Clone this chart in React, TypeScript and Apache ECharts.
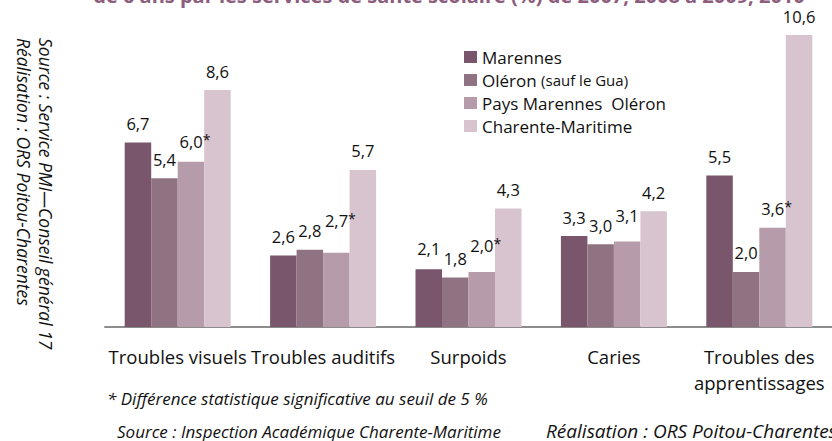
import React, { useEffect, useRef } from "react";
import * as echarts from "echarts";

const categories = [
  "Troubles visuels",
  "Troubles auditifs",
  "Surpoids",
  "Caries",
  "Troubles des\napprentissages",
];
const seriesNames = [
  "Marennes",
  "Oléron (sauf le Gua)",
  "Pays Marennes  Oléron",
  "Charente-Maritime",
];
const marennes = [6.7, 2.6, 2.1, 3.3, 5.5];
const oleron = [5.4, 2.8, 1.8, 3.0, 2.0];
const paysMarennesOleron = [6.0, 2.7, 2.0, 3.1, 3.6];
const charenteMaritime = [8.6, 5.7, 4.3, 4.2, 10.6];
// significant difference marker (*) for Pays Marennes Oléron
const paysSignificant = [true, true, true, false, true];

const titleText =
  "de 6 ans par les services de santé scolaire (%) de 2007, 2008 à 2009, 2010";
const noteText = "* Différence statistique significative au seuil de 5 %";
const sourceBottom = "Source : Inspection Académique Charente-Maritime";
const realBottom = "Réalisation : ORS Poitou-Charentes";
const sourceLeft = "Source : Service PMI—Conseil général 17";
const realLeft = "Réalisation : ORS Poitou-Charentes";

const FONT = "'Open Sans', sans-serif";
const colors = ["#79566b", "#8f7383", "#b69cab", "#d7c4ce"];

const fmt = (v: number) => v.toFixed(1).replace(".", ",");

export default function App() {
  const ref = useRef<HTMLDivElement>(null);
  useEffect(() => {
    if (!ref.current) return;
    const chart = echarts.init(ref.current, undefined, { renderer: "svg" });

    // extra upward lift of some labels (overlap avoidance in original)
    const lift: Record<string, number> = {
      "2-0": 1,
      "0-2": 2,
      "2-1": 13,
      "2-2": 7,
      "2-3": 7,
    };

    const allValues = [marennes, oleron, paysMarennesOleron, charenteMaritime];
    const series = allValues.map((vals, si) => ({
      name: seriesNames[si],
      type: "bar" as const,
      barWidth: 26.5,
      barGap: "0%",
      itemStyle: { color: colors[si] },
      data: vals.map((v, ci) => {
        const starred = si === 2 && paysSignificant[ci];
        const extra = lift[`${si}-${ci}`] || 0;
        return {
          value: v,
          label: {
            distance: 10 + extra,
            offset: starred ? [4, 0] : [0, 0],
            formatter: starred ? `{v|${fmt(v)}}{s|*}` : `{v|${fmt(v)}}`,
          },
        };
      }),
      label: {
        show: true,
        position: "top",
        color: "#111",
        rich: {
          v: { fontFamily: FONT, fontSize: 16.5, lineHeight: 18, color: "#111" },
          s: {
            fontFamily: FONT,
            fontSize: 14,
            lineHeight: 12,
            verticalAlign: "top",
            color: "#111",
          },
        },
      },
    }));

    const italic = (text: string, x: number, y: number, size: number, extra: any = {}) => ({
      type: "text",
      x,
      y,
      ...extra,
      style: {
        text,
        fontFamily: FONT,
        fontSize: size,
        fontStyle: "italic",
        fill: "#111",
        align: "left",
        verticalAlign: "middle",
      },
    });

    chart.setOption({
      animation: false,
      color: colors,
      grid: { left: 105, top: 24, width: 730, height: 303, containLabel: false },
      legend: {
        orient: "vertical",
        left: 459,
        top: 41,
        icon: "rect",
        itemWidth: 13,
        itemHeight: 12,
        itemGap: 1,
        data: seriesNames,
        formatter: (name: string) =>
          name === "Oléron (sauf le Gua)"
            ? "{a|Oléron} {b|(sauf le Gua)}"
            : `{a|${name}}`,
        textStyle: {
          fontFamily: FONT,
          fontSize: 17,
          color: "#111",
          lineHeight: 22,
          rich: {
            a: { fontFamily: FONT, fontSize: 17, lineHeight: 22, color: "#111" },
            b: { fontFamily: FONT, fontSize: 15, lineHeight: 22, color: "#111" },
          },
        },
      },
      xAxis: {
        type: "category",
        data: categories,
        axisLine: { lineStyle: { color: "#8c8c8c", width: 2 } },
        axisTick: { length: 6, lineStyle: { color: "#8c8c8c", width: 2 } },
        axisLabel: {
          fontFamily: FONT,
          fontSize: 18.5,
          lineHeight: 26,
          color: "#111",
          margin: 16,
          interval: 0,
        },
      },
      yAxis: { type: "value", min: 0, max: 11, show: false },
      series,
      graphic: [
        {
          type: "text",
          x: 449,
          y: 5,
          style: {
            text: titleText,
            fontFamily: FONT,
            fontSize: 20,
            fontWeight: "bold",
            fill: "#8c5d7c",
            align: "center",
            verticalAlign: "bottom",
          },
        },
        italic(sourceLeft, 46, 38, 17.5, { rotation: -Math.PI / 2 }),
        italic(realLeft, 24, 38, 17.5, { rotation: -Math.PI / 2 }),
        italic(noteText, 107, 398, 17),
        italic(sourceBottom, 117, 431, 17),
        italic(realBottom, 546, 431, 19),
      ],
    });
    return () => chart.dispose();
  }, []);
  return (
    <div
      ref={ref}
      style={{ position: "absolute", left: 0, top: 0, width: 832, height: 441, background: "#fff" }}
    />
  );
}
